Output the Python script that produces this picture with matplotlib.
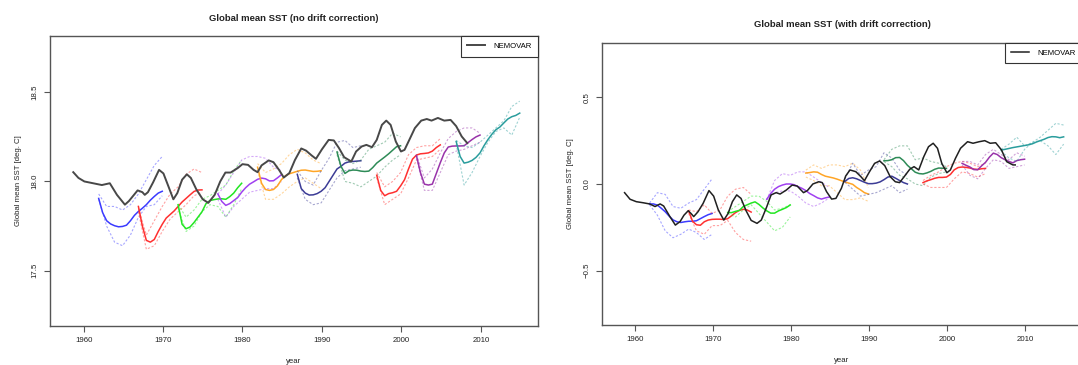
import numpy as np
import matplotlib
matplotlib.use("Agg")
import matplotlib.pyplot as plt

plt.rcParams['font.family'] = ['Liberation Sans', 'DejaVu Sans']

# NEMOVAR reanalysis, raw global mean SST (deg C)
nemo_raw_year = [1958.7, 1959.35, 1960.1, 1961.2, 1962.3, 1963.3, 1964.2, 1965.2, 1965.7, 1966.8,
                 1967.4, 1967.7, 1968.1, 1968.75, 1969.5, 1970.05, 1970.7, 1971.3, 1971.8, 1972.4,
                 1973.0, 1973.5, 1974.2, 1975.0, 1975.7, 1976.5, 1977.2, 1977.85, 1978.5, 1979.4,
                 1980.0, 1980.7, 1981.4, 1981.9, 1982.4, 1983.3, 1983.9, 1984.6, 1985.2, 1985.9,
                 1986.6, 1987.4, 1988.0, 1988.7, 1989.25, 1990.0, 1990.85, 1991.5, 1992.15, 1992.8,
                 1993.7, 1994.3, 1995.0, 1995.6, 1996.3, 1996.9, 1997.55, 1998.1, 1998.65, 1999.3,
                 1999.95, 2000.4, 2001.0, 2001.7, 2002.5, 2003.2, 2003.8, 2004.6, 2005.4, 2006.2,
                 2006.9, 2007.6, 2008.3]
nemo_raw_sst = [18.052, 18.02, 18.0, 17.99, 17.98, 17.99, 17.925, 17.87, 17.89, 17.95,
                17.94, 17.925, 17.94, 17.995, 18.065, 18.045, 17.97, 17.90, 17.935, 18.01,
                18.04, 18.02, 17.955, 17.90, 17.88, 17.925, 18.0, 18.05, 18.05, 18.075,
                18.097, 18.093, 18.065, 18.052, 18.09, 18.118, 18.108, 18.065, 18.022, 18.047,
                18.12, 18.185, 18.173, 18.146, 18.127, 18.18, 18.233, 18.23, 18.187, 18.136,
                18.112, 18.168, 18.196, 18.205, 18.192, 18.233, 18.317, 18.341, 18.317, 18.224,
                18.168, 18.177, 18.233, 18.299, 18.341, 18.35, 18.341, 18.356, 18.341, 18.345,
                18.31, 18.252, 18.215]

# NEMOVAR reanalysis, anomaly used for the drift-corrected panel
nemo_dc_year = [1958.7, 1959.4, 1960.2, 1961.05, 1961.9, 1962.6, 1963.25, 1963.7, 1964.5, 1965.2,
                1965.8, 1966.3, 1966.85, 1967.2, 1967.55, 1968.1, 1968.75, 1969.5, 1970.1, 1970.7,
                1971.4, 1971.95, 1972.5, 1973.05, 1973.6, 1974.25, 1974.9, 1975.65, 1976.2, 1976.9,
                1977.45, 1978.1, 1978.6, 1979.4, 1980.15, 1980.8, 1981.6, 1982.1, 1982.8, 1983.55,
                1984.0, 1984.55, 1985.2, 1985.75, 1986.45, 1987.0, 1987.55, 1988.3, 1988.95, 1989.4,
                1990.05, 1990.7, 1991.35, 1992.0, 1992.7, 1993.35, 1993.9, 1994.55, 1995.2, 1995.75,
                1996.35, 1997.0, 1997.6, 1998.2, 1998.75, 1999.3, 1999.95, 2000.4, 2001.05, 2001.7,
                2002.6, 2003.3, 2004.1, 2004.8, 2005.5, 2006.2, 2006.95, 2007.6, 2008.4, 2008.7]
nemo_dc_sst = [-0.05, -0.088, -0.102, -0.108, -0.115, -0.13, -0.115, -0.127, -0.188, -0.237,
               -0.217, -0.18, -0.154, -0.17, -0.188, -0.16, -0.112, -0.038, -0.07, -0.15,
               -0.208, -0.17, -0.102, -0.063, -0.083, -0.154, -0.21, -0.227, -0.208, -0.131,
               -0.063, -0.05, -0.058, -0.035, -0.006, -0.012, -0.05, -0.038, 0.0, 0.013,
               0.008, -0.044, -0.087, -0.083, -0.025, 0.046, 0.081, 0.071, 0.042, 0.019,
               0.071, 0.119, 0.133, 0.106, 0.042, 0.013, 0.008, 0.046, 0.085, 0.1,
               0.081, 0.158, 0.215, 0.235, 0.206, 0.119, 0.065, 0.081, 0.148, 0.206,
               0.244, 0.235, 0.244, 0.25, 0.235, 0.238, 0.196, 0.129, 0.11, 0.11]

# hindcast start dates and colours
start_years = [1962, 1967, 1972, 1977, 1982, 1987, 1992, 1997, 2002, 2007]
start_colors = ['#3b3bff', '#ff3030', '#22e622', '#a040f0', '#ffa526',
                '#3c3c96', '#2e8b57', '#ff3030', '#9933aa', '#2a9d9d']

# ensemble mean, every half year from the start (no drift correction)
raw_mean = [
    [17.905, 17.825, 17.78, 17.762, 17.752, 17.746, 17.748, 17.755, 17.78, 17.81, 17.832, 17.85, 17.87, 17.895, 17.916, 17.935, 17.945],
    [17.86, 17.75, 17.67, 17.66, 17.675, 17.72, 17.76, 17.795, 17.815, 17.835, 17.86, 17.885, 17.905, 17.925, 17.944, 17.952, 17.953],
    [17.87, 17.76, 17.735, 17.745, 17.77, 17.80, 17.83, 17.875, 17.893, 17.898, 17.902, 17.903, 17.90, 17.915, 17.935, 17.965, 17.99],
    [17.93, 17.888, 17.866, 17.876, 17.893, 17.91, 17.94, 17.965, 17.985, 17.998, 18.012, 18.019, 18.015, 18.003, 18.004, 18.02, 18.038],
    [18.08, 17.99, 17.955, 17.95, 17.955, 17.975, 18.01, 18.032, 18.043, 18.05, 18.057, 18.063, 18.064, 18.06, 18.056, 18.057, 18.06],
    [18.04, 17.96, 17.935, 17.924, 17.925, 17.932, 17.945, 17.965, 18.0, 18.035, 18.07, 18.085, 18.103, 18.11, 18.112, 18.114, 18.116],
    [18.165, 18.085, 18.045, 18.06, 18.064, 18.063, 18.058, 18.056, 18.058, 18.078, 18.103, 18.12, 18.137, 18.155, 18.175, 18.195, 18.2],
    [18.035, 17.95, 17.92, 17.932, 17.937, 17.945, 17.975, 18.01, 18.07, 18.125, 18.148, 18.155, 18.157, 18.16, 18.17, 18.19, 18.205],
    [18.145, 18.05, 17.985, 17.98, 17.985, 18.045, 18.105, 18.16, 18.193, 18.198, 18.199, 18.199, 18.2, 18.218, 18.235, 18.25, 18.26],
    [18.224, 18.14, 18.103, 18.108, 18.118, 18.135, 18.16, 18.2, 18.235, 18.265, 18.29, 18.305, 18.328, 18.35, 18.363, 18.37, 18.383],
]
# two ensemble members, yearly from the start (no drift correction)
raw_member_a = [
    [17.93, 17.86, 17.86, 17.84, 17.87, 17.93, 18.01, 18.09, 18.14],
    [17.85, 17.70, 17.78, 17.86, 17.93, 17.97, 18.04, 18.07, 18.05],
    [17.87, 17.80, 17.84, 17.90, 17.92, 17.95, 17.98, 18.06, 18.12],
    [17.93, 17.98, 18.05, 18.12, 18.14, 18.14, 18.13, 18.08, 18.06],
    [18.10, 18.05, 18.07, 18.10, 18.15, 18.18, 18.16, 18.12, 18.10],
    [18.06, 18.00, 17.98, 18.06, 18.13, 18.22, 18.23, 18.19, 18.20],
    [18.17, 18.12, 18.10, 18.12, 18.18, 18.20, 18.22, 18.27, 18.25],
    [18.05, 17.97, 18.00, 18.05, 18.15, 18.19, 18.20, 18.20, 18.24],
    [18.15, 18.02, 18.07, 18.16, 18.24, 18.28, 18.30, 18.30, 18.27],
    [18.23, 18.20, 18.19, 18.22, 18.26, 18.30, 18.34, 18.42, 18.45],
]
raw_member_b = [
    [17.90, 17.75, 17.66, 17.64, 17.70, 17.80, 17.86, 17.87, 17.92],
    [17.83, 17.62, 17.64, 17.72, 17.79, 17.83, 17.87, 17.92, 17.94],
    [17.85, 17.72, 17.75, 17.83, 17.87, 17.86, 17.80, 17.87, 17.96],
    [17.90, 17.80, 17.86, 17.90, 17.94, 17.95, 17.96, 17.96, 18.00],
    [18.06, 17.90, 17.90, 17.93, 17.97, 18.00, 18.02, 17.99, 17.96],
    [18.02, 17.90, 17.87, 17.88, 17.95, 18.02, 18.06, 18.07, 18.08],
    [18.15, 18.00, 17.99, 17.97, 18.00, 18.03, 18.08, 18.12, 18.15],
    [18.02, 17.87, 17.90, 17.93, 18.02, 18.12, 18.13, 18.14, 18.18],
    [18.13, 17.95, 17.95, 18.05, 18.15, 18.17, 18.18, 18.20, 18.22],
    [18.21, 17.98, 18.05, 18.14, 18.22, 18.28, 18.30, 18.26, 18.36],
]

# ensemble mean, every half year (with drift correction)
dc_mean = [
    [-0.115, -0.115, -0.122, -0.14, -0.16, -0.185, -0.207, -0.218, -0.222, -0.218, -0.215, -0.215, -0.212, -0.2, -0.188, -0.177, -0.17],
    [-0.155, -0.215, -0.235, -0.238, -0.218, -0.208, -0.204, -0.203, -0.203, -0.205, -0.2, -0.183, -0.165, -0.152, -0.146, -0.15, -0.162],
    [-0.165, -0.165, -0.158, -0.152, -0.13, -0.12, -0.11, -0.103, -0.118, -0.138, -0.155, -0.168, -0.168, -0.155, -0.146, -0.136, -0.121],
    [-0.088, -0.055, -0.03, -0.015, -0.006, 0.0, 0.0, -0.004, -0.015, -0.025, -0.038, -0.055, -0.067, -0.08, -0.087, -0.08, -0.075],
    [0.063, 0.066, 0.07, 0.068, 0.055, 0.045, 0.04, 0.035, 0.028, 0.02, 0.012, 0.005, -0.002, -0.02, -0.034, -0.05, -0.058],
    [0.015, 0.032, 0.036, 0.03, 0.02, 0.01, 0.002, 0.002, 0.005, 0.012, 0.025, 0.04, 0.045, 0.033, 0.02, 0.008, 0.0],
    [0.134, 0.135, 0.14, 0.152, 0.153, 0.135, 0.108, 0.088, 0.068, 0.06, 0.058, 0.064, 0.073, 0.085, 0.092, 0.091, 0.09],
    [0.008, 0.018, 0.025, 0.033, 0.038, 0.038, 0.04, 0.055, 0.082, 0.095, 0.098, 0.096, 0.092, 0.086, 0.084, 0.088, 0.09],
    [0.119, 0.108, 0.098, 0.083, 0.082, 0.105, 0.125, 0.155, 0.178, 0.17, 0.152, 0.14, 0.13, 0.122, 0.135, 0.14, 0.143],
    [0.196, 0.2, 0.205, 0.21, 0.214, 0.218, 0.222, 0.226, 0.232, 0.242, 0.25, 0.258, 0.268, 0.273, 0.272, 0.267, 0.272],
]
dc_member_a = [
    [-0.11, -0.05, -0.06, -0.13, -0.14, -0.11, -0.09, -0.03, 0.03],
    [-0.15, -0.16, -0.12, -0.17, -0.15, -0.07, -0.03, -0.02, -0.06],
    [-0.16, -0.13, -0.10, -0.07, -0.07, -0.10, -0.15, -0.14, -0.12],
    [-0.09, 0.02, 0.06, 0.05, 0.07, 0.07, 0.04, 0.01, -0.02],
    [0.08, 0.11, 0.09, 0.11, 0.11, 0.10, 0.12, 0.08, -0.02],
    [0.03, 0.12, 0.05, 0.08, 0.10, 0.18, 0.15, 0.08, 0.05],
    [0.14, 0.20, 0.22, 0.22, 0.14, 0.15, 0.13, 0.12, 0.10],
    [0.02, 0.05, 0.07, 0.10, 0.12, 0.13, 0.12, 0.10, 0.12],
    [0.13, 0.13, 0.11, 0.17, 0.20, 0.17, 0.14, 0.18, 0.16],
    [0.20, 0.23, 0.27, 0.22, 0.24, 0.27, 0.31, 0.35, 0.34],
]
dc_member_b = [
    [-0.12, -0.18, -0.27, -0.31, -0.29, -0.26, -0.28, -0.32, -0.29],
    [-0.17, -0.27, -0.29, -0.24, -0.24, -0.21, -0.28, -0.32, -0.33],
    [-0.17, -0.19, -0.15, -0.12, -0.17, -0.22, -0.27, -0.25, -0.19],
    [-0.09, -0.05, -0.04, -0.04, -0.07, -0.11, -0.13, -0.11, -0.08],
    [0.04, 0.02, -0.01, -0.01, -0.05, -0.09, -0.09, -0.08, -0.10],
    [0.01, -0.03, -0.07, -0.06, -0.05, -0.03, -0.01, -0.05, -0.03],
    [0.13, 0.10, 0.05, 0.03, 0.00, -0.01, 0.04, 0.06, 0.07],
    [0.00, -0.02, -0.02, -0.02, 0.03, 0.07, 0.06, 0.04, 0.06],
    [0.11, 0.05, 0.03, 0.09, 0.14, 0.13, 0.09, 0.10, 0.11],
    [0.19, 0.15, 0.13, 0.20, 0.24, 0.25, 0.22, 0.17, 0.23],
]

half_lead = np.arange(17) * 0.5
year_lead = np.arange(9) * 1.0

fig = plt.figure(figsize=(10.78, 3.65), dpi=100)
ax1 = fig.add_axes([0.046, 0.1068, 0.453, 0.7945])
ax2 = fig.add_axes([0.5583, 0.1088, 0.4455, 0.7742])


def draw_panel(ax, nemo_x, nemo_y, mean, mem_a, mem_b, black, black_lw):
    for i, s in enumerate(start_years):
        t0 = s - 0.1
        for mem in (mem_a[i], mem_b[i]):
            ax.plot(t0 + year_lead, mem, color=start_colors[i], lw=0.8, alpha=0.45,
                    dashes=(2, 1.6))
        ax.plot(t0 + half_lead, mean[i], color=start_colors[i], lw=1.1)
    ax.plot(nemo_x, nemo_y, color=black, lw=black_lw, label='NEMOVAR')


draw_panel(ax1, nemo_raw_year, nemo_raw_sst, raw_mean, raw_member_a, raw_member_b, '#484848', 1.4)
draw_panel(ax2, nemo_dc_year, nemo_dc_sst, dc_mean, dc_member_a, dc_member_b, '#202020', 1.1)

ax1.set_xlim(1955.72, 2017.19)
ax1.set_ylim(17.19, 18.815)
ax1.set_yticks([17.5, 18.0, 18.5])
ax1.set_yticklabels(['17.5', '18.0', '18.5'])
ax2.set_xlim(1955.79, 2017.26)
ax2.set_ylim(-0.815, 0.815)
ax2.set_yticks([-0.5, 0.0, 0.5])
ax2.set_yticklabels(['\u22120.5', '0.0', '0.5'])

titles = ['Global mean SST (no drift correction)', 'Global mean SST (with drift correction)']
for ax, title in zip((ax1, ax2), titles):
    ax.set_xticks([1960, 1970, 1980, 1990, 2000, 2010])
    ax.tick_params(direction='out', length=4.3, width=0.8, color='#555555',
                   labelsize=5.7, labelcolor='#222222', pad=3.5)
    for t in ax.get_yticklabels():
        t.set_rotation(90)
        t.set_va('center')
    for sp in ax.spines.values():
        sp.set_color('#555555')
        sp.set_linewidth(1.0)
    ax.set_xlabel('year', fontsize=5.6, color='#222222', labelpad=10)
    ax.set_ylabel('Global mean SST [deg. C]', fontsize=5.6, color='#222222', labelpad=7)
    ax.set_title(title, fontsize=6.8, fontweight='bold', color='#222222', pad=11)
    leg = ax.legend(loc='upper right', fontsize=5.6, frameon=True, fancybox=False,
                    borderaxespad=0, handlelength=2.3, handletextpad=1.0,
                    borderpad=0.85, framealpha=1)
    leg.get_frame().set_edgecolor('#333333')
    leg.get_frame().set_linewidth(0.8)

fig.savefig('out.png', dpi=100)
